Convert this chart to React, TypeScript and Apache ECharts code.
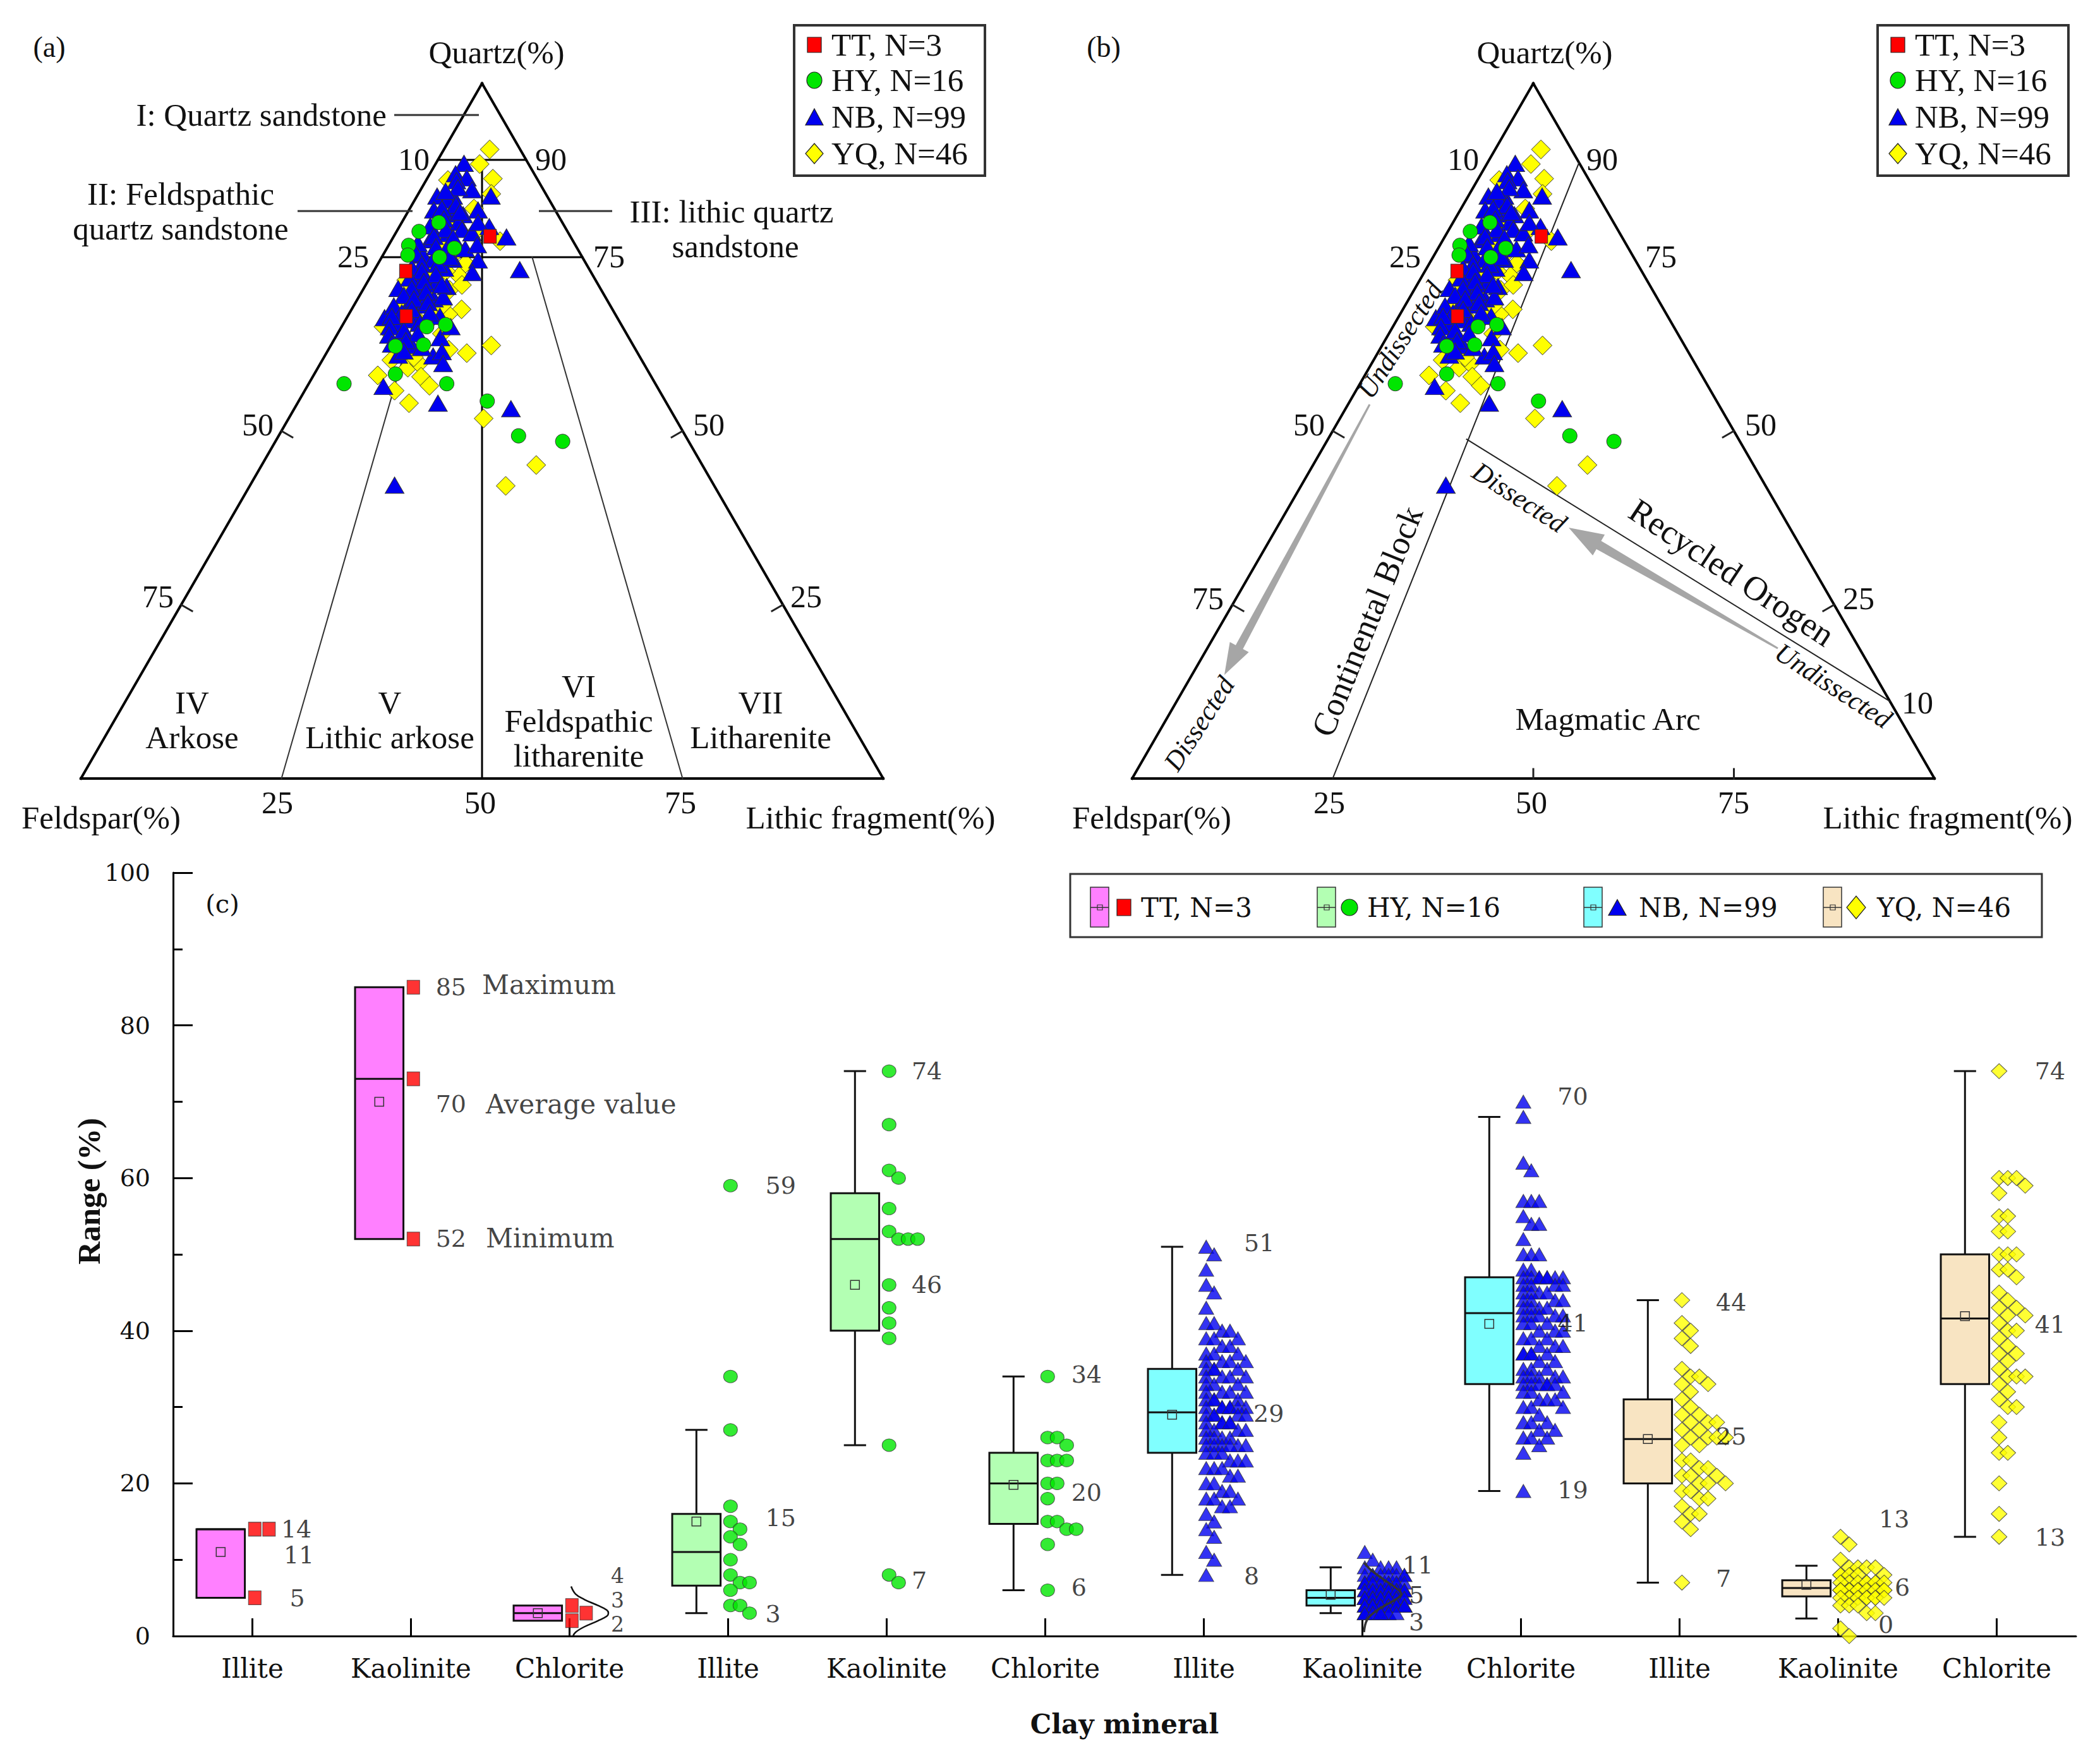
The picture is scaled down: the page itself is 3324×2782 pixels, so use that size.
import React, { useEffect, useRef } from 'react';
import * as echarts from 'echarts';

// ================= DATA =================
// Ternary samples: [Quartz %, Lithic fragment %]; Feldspar = 100 - Q - L
const TT_QL = [[78, 12], [73, 4], [66.5, 7.3]];
const HY_QL = [[80, 4.6], [78.7, 2.8], [76.7, 2.5], [75.3, 3.1], [76.3, 8.4], [75, 7.2], [65, 10.6], [65.3, 12.8], [62.2, 8.1], [62.4, 11.5], [58.2, 10.1], [56.8, 4.4], [56.8, 17.2], [54.3, 23.5], [49.3, 29.9], [48.5, 35.8]];
const NB_QL = [[88.5, 3.5], [87, 3.2], [86.4, 4.9], [84.7, 6.4], [83.8, 9.2], [83.8, 2.5], [83.8, 4.5], [83.2, 4.1], [81.8, 8.6], [81.8, 3.1], [81.2, 5.4], [81.1, 7.1], [79.4, 11.2], [80, 7.1], [78.4, 6.6], [77.9, 14.1], [77.5, 4.8], [76.2, 9.8], [74.6, 12.2], [73.2, 18.1], [75.3, 5], [74.7, 6.6], [74.7, 9], [73.4, 8.6], [72.8, 12.4], [72.3, 6.5], [70.5, 4.3], [70.8, 6.1], [71.1, 8.7], [70.8, 10.2], [69.9, 7.7], [69, 9.5], [69.3, 10.5], [68.7, 6.8], [68.1, 8.6], [66.3, 4.7], [66.5, 11.5], [65.5, 7], [66.5, 8.6], [63.5, 8.3], [62.3, 10.1], [63.4, 13.1], [60.8, 13.5], [61.4, 14.3], [59.7, 15.3], [60.9, 9.1], [56.4, 9.5], [54, 17.5], [53.2, 27], [42.2, 18], [65, 13.6],
  [86, 3.8], [85, 4.5], [84.5, 3.2], [82.5, 5.5], [82, 4], [81.5, 6.5], [80.5, 5], [79.5, 3.8], [79, 6], [79, 8], [78, 5], [77.8, 7.5], [77, 3.5], [76.5, 6], [76, 7.5], [75.5, 4], [75, 8.5], [74, 5.5], [74, 7.5], [73.5, 4.5], [73, 6], [72.5, 8], [72, 5], [71.5, 7], [71, 9.5], [70.5, 6], [70, 8], [69.5, 5.5], [69, 7], [68.5, 9], [68, 5], [67.5, 7.5], [67, 10], [67, 6.5], [66.5, 5.5], [66, 8], [65.5, 9.5], [65, 6], [64.5, 8], [64, 10], [63.8, 6.5], [63, 9], [62.5, 7.5], [62, 11.5], [61.5, 9.5], [78.5, 9.5], [80, 9.5], [76.8, 11]];
const YQ_QL = [[90.5, 5.7], [88.4, 5.5], [86.3, 8.2], [86.1, 2.7], [84.1, 9.1], [77.3, 13.6], [74.1, 10.9], [72.3, 11], [70.3, 10.8], [67.5, 13.7], [71.7, 4.7], [72.3, 7.4], [77.2, 6.3], [65, 5.2], [66.4, 10.7], [66.8, 12.4], [61.7, 15], [61.2, 17.5], [62.3, 20], [60.2, 8.6], [59.1, 11.2], [59.7, 12.3], [60.6, 11.2], [57.8, 13.5], [56.5, 15.2], [55.8, 11.2], [54, 13.9], [51.8, 24.3], [45.1, 34.2], [42.1, 31.9],
  [80, 6], [76, 9], [73, 9], [70, 7], [69, 9], [68, 6], [71, 12], [74, 8], [79, 10], [82, 8], [63, 9], [66, 9], [62, 10], [64, 13], [58, 8], [68, 11]];

const GROUP_NAMES = ['TT, N=3', 'HY, N=16', 'NB, N=99', 'YQ, N=46'];

// Ternary frame and classification boundaries, [Q, L] end points
const FRAME_QL = [[[100, 0], [0, 0]], [[0, 0], [0, 100]], [[0, 100], [100, 0]]];
const FOLK_MAIN_QL = [[[89, 0], [89, 11]], [[75, 0], [75, 25]], [[89, 5.5], [0, 50]]];
const FOLK_RATIO_QL = [[[75, 6.25], [0, 25]], [[75, 18.75], [0, 75]]];
const DICKINSON_QL = [[[88.6, 11.4], [0, 25]], [[48.8, 17.3], [11.1, 88.9]]];
const EDGE_TICK_Q = [50, 25];
const BASE_TICK_L = [50, 75];

// Panel (c): clay minerals
const CLAY_MINERALS = ['Illite', 'Kaolinite', 'Chlorite'];
const CLAY_CATEGORIES = [...CLAY_MINERALS, ...CLAY_MINERALS, ...CLAY_MINERALS, ...CLAY_MINERALS];

const TT_ILLITE = [14, 14, 5];
const TT_KAOLINITE = [85, 73, 52];
const TT_CHLORITE = [4, 3, 2];
const HY_ILLITE = [59, 34, 27, 17, 15, 14, 13, 12, 10, 8, 7, 7, 6, 4, 4, 3];
const HY_KAOLINITE = [74, 67, 61, 60, 56, 53, 52, 52, 52, 46, 43, 41, 39, 25, 8, 7];
const HY_CHLORITE = [34, 26, 26, 25, 23, 23, 23, 20, 20, 18, 15, 15, 14, 14, 12, 6];
const NB_ILLITE = [51, 50, 48, 46, 45, 43, 41, 41, 40, 40, 39, 39, 39, 37, 37, 36, 36, 36, 35, 35, 35, 34, 34, 34, 33, 33, 32, 32, 32, 31, 31, 31, 30, 30, 30, 30, 30, 29, 29, 29, 28, 28, 28, 27, 27, 27, 26, 26, 25, 25, 25, 25, 25, 24, 24, 23, 23, 22, 22, 21, 21, 20, 19, 19, 18, 18, 17, 17, 15, 14, 13, 11, 10, 8,
  38, 38, 37, 36, 35, 34, 33, 32, 31, 30, 30, 29, 29, 28, 28, 27, 26, 26, 25, 24, 23, 22, 20, 18, 16];
const NB_KAOLINITE = [11, 10, 9, 9, 9, 9, 8, 8, 8, 8, 8, 8, 8, 8, 7, 7, 7, 7, 7, 7, 7, 7, 7, 7, 7, 7,
  6, 6, 6, 6, 6, 6, 6, 6, 6, 6, 6, 6, 6, 6, 6, 6, 6, 6, 5, 5, 5, 5, 5, 5, 5, 5, 5, 5, 5, 5, 5, 5, 5, 5, 5, 5, 5, 5, 5, 5,
  4, 4, 4, 4, 4, 4, 4, 4, 4, 4, 4, 4, 4, 4, 4, 4, 4, 4, 4, 4, 4, 4, 3, 3, 3, 3, 3, 3, 3, 3, 3, 3, 3];
const NB_CHLORITE = [70, 68, 62, 61, 57, 57, 57, 55, 54, 54, 52, 50, 50, 50, 48, 48, 47, 47, 47, 47, 47, 47, 47, 46, 46, 46, 45, 45, 45, 44, 44, 43, 43, 43, 42, 42, 42, 42, 41, 41, 40, 40, 39, 39, 38, 38, 37, 37, 37, 37, 35, 35, 34, 34, 34, 34, 33, 33, 33, 33, 33, 32, 32, 31, 31, 30, 30, 28, 28, 27, 26, 26, 26, 24, 19,
  47, 46, 45, 44, 44, 43, 42, 41, 40, 39, 38, 37, 36, 36, 35, 34, 33, 32, 31, 30, 29, 28, 27, 25];
const YQ_ILLITE = [44, 41, 40, 39, 38, 35, 34, 34, 33, 33, 32, 31, 30, 29, 29, 28, 28, 28, 27, 27, 26, 26, 26, 26, 25, 25, 23, 23, 22, 22, 21, 21, 21, 20, 20, 20, 19, 19, 18, 18, 17, 16, 16, 15, 14, 7];
const YQ_KAOLINITE = [13, 12, 10, 9, 9, 9, 9, 8, 8, 8, 8, 8, 7, 7, 7, 7, 7, 7, 7, 7, 6, 6, 6, 6, 6, 6, 6, 6, 6, 6, 6, 5, 5, 5, 5, 5, 5, 5, 5, 4, 4, 4, 3, 3, 1, 0];
const YQ_CHLORITE = [74, 60, 60, 60, 59, 58, 55, 55, 53, 53, 50, 50, 50, 48, 48, 47, 45, 44, 43, 43, 42, 42, 41, 40, 40, 39, 38, 37, 37, 36, 35, 34, 34, 34, 33, 32, 31, 30, 30, 28, 26, 24, 24, 20, 16, 13];

const CLAY_VALUES = [
  [TT_ILLITE, TT_KAOLINITE, TT_CHLORITE],
  [HY_ILLITE, HY_KAOLINITE, HY_CHLORITE],
  [NB_ILLITE, NB_KAOLINITE, NB_CHLORITE],
  [YQ_ILLITE, YQ_KAOLINITE, YQ_CHLORITE],
];

// Box statistics per mineral: [lower whisker, Q1, median, Q3, upper whisker, mean]
const TT_BOX = [[5, 5, 14, 14, 14, 11], [52, 52, 73, 85, 85, 70], [2, 2, 3, 4, 4, 3]];
const HY_BOX = [[3, 6.6, 11, 16, 27, 15], [25, 40, 52, 58, 74, 46], [6, 14.7, 20, 24, 34, 19.8]];
const NB_BOX = [[8, 24, 29.3, 35, 51, 29], [3, 4, 5, 6, 9, 5.4], [19, 33, 42.3, 47, 68, 40.9]];
const YQ_BOX = [[7, 20, 25.8, 31, 44, 25.8], [2.3, 5.2, 6.3, 7.3, 9.2, 6.7], [13, 33, 41.6, 50, 74, 41.9]];
const BOX_STATS = [TT_BOX, HY_BOX, NB_BOX, YQ_BOX];

// Normal-distribution curves (value, relative density)
const TT_CHLORITE_CURVE = [[6.5, 0], [5.5, 0.12], [4.8, 0.35], [4.0, 0.72], [3.4, 0.96], [3.0, 1], [2.6, 0.96], [2.0, 0.72], [1.2, 0.35], [0.5, 0.12], [0, 0.05]];
const NB_KAOLINITE_CURVE = [[9.6, 0], [8.6, 0.2], [7.5, 0.5], [6.5, 0.8], [5.5, 1], [4.8, 0.85], [4.1, 0.6], [3.2, 0.3], [2.1, 0.08], [0.5, 0]];

// Annotations of panel (c): [x (category units), y (%), text]
const C_LABELS: [number, number, string][] = [
  [1.181, 14, '14'], [1.197, 10.6, '11'], [1.235, 5, '5'],
  [2.156, 85, '85'], [2.448, 85.3, 'Maximum'], [2.156, 69.7, '70'], [2.472, 69.7, 'Average value'], [2.156, 52.1, '52'], [2.472, 52.1, 'Minimum'],
  [3.261, 7.9, '4'], [3.261, 4.7, '3'], [3.261, 1.5, '2'],
  [4.235, 59, '59'], [4.235, 15.5, '15'], [4.235, 2.9, '3'],
  [5.157, 74, '74'], [5.157, 46, '46'], [5.157, 7.3, '7'],
  [6.164, 34.3, '34'], [6.164, 18.8, '20'], [6.164, 6.4, '6'],
  [7.253, 51.5, '51'], [7.313, 29.1, '29'], [7.253, 7.9, '8'],
  [8.253, 9.3, '11'], [8.293, 5.4, '5'], [8.293, 1.8, '3'],
  [9.23, 70.7, '70'], [9.23, 41, '41'], [9.23, 19.1, '19'],
  [10.229, 43.7, '44'], [10.229, 26.2, '25'], [10.229, 7.5, '7'],
  [11.257, 15.3, '13'], [11.357, 6.4, '6'], [11.253, 1.5, '0'],
  [12.24, 74, '74'], [12.24, 40.8, '41'], [12.24, 12.9, '13'],
];
const SMALL_LABEL_X = [3.261];

// ================= STYLE / LAYOUT =================
const SERIF = '"Liberation Serif", "Times New Roman", serif';
const WIDE = '"DejaVu Serif", serif';
const TSIZE = 51;
const BOX_FILL = ['#FF80FF', '#B3FFB3', '#80FFFF', '#F8E4C2'];
const MARK_FILL = ['#FF0000', '#00E600', '#0000F0', '#FFFF00'];
const MARK_SYMBOL = ['rect', 'circle', 'triangle', 'diamond'];
const TERN_SIZE: any[] = [[20, 22], [23, 23], [30, 26], [30, 30]];
const CLAY_SIZE: any[] = [[20, 22], [22, 20], [24, 21], [25, 24]];
const GRID_A = { left: 128, top: 132, width: 1270, height: 1100 };
const GRID_B = { left: 1792, top: 132, width: 1270, height: 1100 };
const GRID_C = { left: 274, top: 1381, width: 3012, height: 1208 };
const BOX_OFFSET = -0.2, BOX_W = 0.305, CAP_W = 0.14;
const SWARM_BASE = 0.015, CURVE_W = 0.235;
const SWARM = [
  { step: 0.09, slots: 3, thresh: 1.5 },
  { step: 0.06, slots: 4, thresh: 1.5 },
  { step: 0.05, slots: 6, thresh: 1.5 },
  { step: 0.055, slots: 6, thresh: 1.5 },
];

const toXY = ([q, l]: number[]) => [l + q / 2, q];

function segSeries(g: number, segs: number[][][], color: string, width: number) {
  return {
    type: 'custom', xAxisIndex: g, yAxisIndex: g, silent: true, z: 2, clip: false,
    encode: { x: [0, 2], y: [1, 3] },
    data: segs.map(([a, b]) => [a[0], a[1], b[0], b[1]]),
    renderItem: (_p: any, api: any) => {
      const p1 = api.coord([api.value(0), api.value(1)]);
      const p2 = api.coord([api.value(2), api.value(3)]);
      return { type: 'line', shape: { x1: p1[0], y1: p1[1], x2: p2[0], y2: p2[1] }, style: { stroke: color, lineWidth: width, lineCap: 'square' } };
    },
  };
}

function ternTicks(grid: any, withBase: boolean) {
  const L = 20;
  const dx = (L * 0.866) / (grid.width / 100);
  const dq = (L * 0.5) / (grid.height / 100);
  const segs: number[][][] = [];
  EDGE_TICK_Q.forEach((q) => {
    segs.push([[q / 2, q], [q / 2 + dx, q - dq]]);
    segs.push([[100 - q / 2, q], [100 - q / 2 - dx, q - dq]]);
  });
  if (withBase) BASE_TICK_L.forEach((l) => segs.push([[l, 0], [l, 15 / (grid.height / 100)]]));
  return segs;
}

function swarm(values: number[], cat: number, cfg: any) {
  const placed: { v: number; s: number }[] = [];
  const sorted = values.slice().sort((a, b) => b - a);
  return sorted.map((v) => {
    const conf = new Array(cfg.slots).fill(0);
    placed.forEach((p) => { if (Math.abs(p.v - v) < cfg.thresh) conf[p.s]++; });
    let s = conf.indexOf(0);
    if (s < 0) s = conf.indexOf(Math.min(...conf));
    placed.push({ v, s });
    return [cat + SWARM_BASE + s * cfg.step, v];
  });
}

function arrowPoly(sx: number, sy: number, tx: number, ty: number, w0: number, w1: number, hl: number, hw: number) {
  const dx = tx - sx, dy = ty - sy, len = Math.hypot(dx, dy);
  const ux = dx / len, uy = dy / len, nx = -uy, ny = ux;
  const bx = tx - ux * hl, by = ty - uy * hl;
  return [[sx + nx * w0 / 2, sy + ny * w0 / 2], [bx + nx * w1 / 2, by + ny * w1 / 2], [bx + nx * hw / 2, by + ny * hw / 2], [tx, ty],
    [bx - nx * hw / 2, by - ny * hw / 2], [bx - nx * w1 / 2, by - ny * w1 / 2], [sx - nx * w0 / 2, sy - ny * w0 / 2]];
}

function txt(text: string, x: number, y: number, o: any = {}) {
  const align = o.align || 'center';
  return {
    type: 'text', x, y, rotation: o.rot || 0, silent: true, z: 60,
    style: {
      text, fill: o.color || '#111', fontSize: o.size || TSIZE, fontFamily: o.family || SERIF,
      fontStyle: o.italic ? 'italic' : 'normal', fontWeight: o.bold ? 'bold' : 'normal',
      align, verticalAlign: 'middle', textAlign: align, textVerticalAlign: 'middle',
    },
  };
}

function marker(kind: number, cx: number, cy: number, w: number, h: number) {
  const style = { fill: MARK_FILL[kind], stroke: '#222', lineWidth: 1.2 };
  if (kind === 0) return { type: 'rect', shape: { x: cx - w / 2, y: cy - h / 2, width: w, height: h }, style, z: 61 };
  if (kind === 1) return { type: 'ellipse', shape: { cx, cy, rx: w / 2, ry: h / 2 }, style, z: 61 };
  if (kind === 2) return { type: 'polygon', shape: { points: [[cx, cy - h / 2], [cx + w / 2, cy + h / 2], [cx - w / 2, cy + h / 2]] }, style, z: 61 };
  return { type: 'polygon', shape: { points: [[cx, cy - h / 2], [cx + w / 2, cy], [cx, cy + h / 2], [cx - w / 2, cy]] }, style, z: 61 };
}

function ternLegend(left: number) {
  const els: any[] = [{ type: 'rect', shape: { x: left, y: 40, width: 302, height: 238 }, style: { fill: '#fff', stroke: '#333', lineWidth: 4 }, z: 59 }];
  const rows = [71, 127, 185, 243];
  const sizes = [[22, 24], [24, 26], [28, 26], [28, 32]];
  GROUP_NAMES.forEach((n, i) => {
    els.push(marker(i, left + 32, rows[i], sizes[i][0], sizes[i][1]));
    els.push(txt(n, left + 59, rows[i], { align: 'left', size: 51 }));
  });
  return els;
}

function buildOption() {
  const ternLines: any[] = [];
  const ternPoints: any[] = [];
  const QL = [TT_QL, HY_QL, NB_QL, YQ_QL];
  [GRID_A, GRID_B].forEach((grid, g) => {
    ternLines.push(segSeries(g, FRAME_QL.map((s) => s.map(toXY)), '#000', 4));
    if (g === 0) {
      ternLines.push(segSeries(g, FOLK_MAIN_QL.map((s) => s.map(toXY)), '#000', 3));
      ternLines.push(segSeries(g, FOLK_RATIO_QL.map((s) => s.map(toXY)), '#333', 2));
    } else {
      ternLines.push(segSeries(g, DICKINSON_QL.map((s) => s.map(toXY)), '#222', 2));
    }
    ternLines.push(segSeries(g, ternTicks(grid, g === 1), '#222', 3));
    [3, 2, 1, 0].forEach((k, order) => {
      ternPoints.push({
        type: 'scatter', name: GROUP_NAMES[k], xAxisIndex: g, yAxisIndex: g, z: 10 + order,
        data: QL[k].map(toXY), symbol: MARK_SYMBOL[k], symbolSize: TERN_SIZE[k],
        itemStyle: { color: MARK_FILL[k], borderColor: '#333', borderWidth: 1, opacity: 1 },
        silent: true,
      });
    });
  });

  const boxSeries = BOX_STATS.map((stats, g) => ({
    type: 'custom', name: GROUP_NAMES[g] + ' box', xAxisIndex: 3, yAxisIndex: 2, z: 3, silent: true,
    encode: { x: 0, y: [1, 2, 3, 4, 5] },
    data: stats.map((s, m) => [g * 3 + m + 1, ...s]),
    renderItem: (_p: any, api: any) => {
      const x = api.value(0) + BOX_OFFSET;
      const v = [1, 2, 3, 4, 5, 6].map((i) => api.value(i));
      const c = (val: number) => api.coord([x, val]);
      const bw = api.size([BOX_W, 0])[0];
      const cw = api.size([CAP_W, 0])[0];
      const cx = c(v[2])[0];
      const [yLow, yQ1, yMed, yQ3, yHigh, yMean] = v.map((val) => c(val)[1]);
      const ln = { stroke: '#111', lineWidth: 3 };
      const ch: any[] = [];
      if (v[0] < v[1]) {
        ch.push({ type: 'line', shape: { x1: cx, y1: yLow, x2: cx, y2: yQ1 }, style: ln });
        ch.push({ type: 'line', shape: { x1: cx - cw / 2, y1: yLow, x2: cx + cw / 2, y2: yLow }, style: ln });
      }
      if (v[4] > v[3]) {
        ch.push({ type: 'line', shape: { x1: cx, y1: yQ3, x2: cx, y2: yHigh }, style: ln });
        ch.push({ type: 'line', shape: { x1: cx - cw / 2, y1: yHigh, x2: cx + cw / 2, y2: yHigh }, style: ln });
      }
      ch.push({ type: 'rect', shape: { x: cx - bw / 2, y: yQ3, width: bw, height: yQ1 - yQ3 }, style: { fill: BOX_FILL[g], stroke: '#111', lineWidth: 3 } });
      ch.push({ type: 'line', shape: { x1: cx - bw / 2, y1: yMed, x2: cx + bw / 2, y2: yMed }, style: ln });
      ch.push({ type: 'rect', shape: { x: cx - 7, y: yMean - 7, width: 14, height: 14 }, style: { fill: 'none', stroke: '#333', lineWidth: 1.5 } });
      return { type: 'group', children: ch };
    },
  }));

  const clayScatter = CLAY_VALUES.map((mins, g) => ({
    type: 'scatter', name: GROUP_NAMES[g] + ' clay', xAxisIndex: 3, yAxisIndex: 2, z: 5, silent: true,
    data: mins.flatMap((vals, m) => swarm(vals, g * 3 + m + 1, SWARM[g])),
    symbol: MARK_SYMBOL[g], symbolSize: CLAY_SIZE[g],
    itemStyle: { color: MARK_FILL[g], borderColor: '#333', borderWidth: 1 },
  }));

  const curve = (data: number[][], cat: number, color: string, w: number) => ({
    type: 'line', xAxisIndex: 3, yAxisIndex: 2, z: 7, silent: true, smooth: 0.4, symbol: 'none',
    data: data.map(([v, d]) => [cat + 0.01 + d * CURVE_W, v]),
    lineStyle: { color, width: w },
  });

  const annotations = {
    type: 'scatter', xAxisIndex: 3, yAxisIndex: 2, z: 9, silent: true, symbolSize: 0,
    data: C_LABELS.map(([x, y, t]) => ({
      value: [x, y], name: t,
      label: { fontSize: SMALL_LABEL_X.includes(x) ? 33 : /^\d+$/.test(t) ? 38 : 42 },
    })),
    label: { show: true, position: 'right', distance: 0, formatter: '{b}', color: '#111', fontFamily: WIDE, fontSize: 38 },
  };

  // --------- graphic (text annotations, legends, arrows) ---------
  const g: any[] = [];
  // panel (a)
  g.push(txt('(a)', 78, 74, { size: 46 }));
  g.push(txt('Quartz(%)', 786, 83));
  g.push(txt('I: Quartz sandstone', 612, 182, { align: 'right' }));
  g.push(txt('II: Feldspathic', 286, 307));
  g.push(txt('quartz sandstone', 286, 362));
  g.push(txt('III: lithic quartz', 1158, 335));
  g.push(txt('sandstone', 1164, 390));
  [['10', 655, 252], ['90', 872, 252], ['25', 559, 406], ['75', 964, 406], ['50', 408, 672], ['75', 250, 944], ['50', 1122, 672], ['25', 1276, 944],
    ['25', 439, 1270], ['50', 760, 1270], ['75', 1077, 1270]].forEach(([t, x, y]: any) => g.push(txt(t, x, y, { size: 50 })));
  g.push(txt('Feldspar(%)', 160, 1294));
  g.push(txt('Lithic fragment(%)', 1378, 1294));
  [['IV', 304, 1112], ['Arkose', 304, 1167], ['V', 617, 1112], ['Lithic arkose', 617, 1167], ['VI', 916, 1086], ['Feldspathic', 916, 1141],
    ['litharenite', 916, 1196], ['VII', 1204, 1112], ['Litharenite', 1204, 1167]].forEach(([t, x, y]: any) => g.push(txt(t, x, y)));
  [[624, 182, 758, 182], [471, 334, 653, 334], [853, 334, 969, 334]].forEach(([x1, y1, x2, y2]) =>
    g.push({ type: 'line', shape: { x1, y1, x2, y2 }, style: { stroke: '#333', lineWidth: 3 }, silent: true, z: 5 }));
  g.push(...ternLegend(1257));

  // panel (b)
  g.push(txt('(b)', 1747, 74, { size: 46 }));
  g.push(txt('Quartz(%)', 2445, 83));
  [['10', 2316, 252], ['90', 2536, 252], ['25', 2224, 406], ['75', 2629, 406], ['50', 2072, 672], ['50', 2787, 672], ['75', 1912, 947], ['25', 2942, 947],
    ['10', 3035, 1112], ['25', 2104, 1270], ['50', 2424, 1270], ['75', 2744, 1270]].forEach(([t, x, y]: any) => g.push(txt(t, x, y, { size: 50 })));
  g.push(txt('Feldspar(%)', 1823, 1294));
  g.push(txt('Lithic fragment(%)', 3083, 1294));
  g.push(txt('Magmatic Arc', 2545, 1138));
  const deg = Math.PI / 180;
  g.push(txt('Continental Block', 2164, 983, { size: 53, rot: 68 * deg }));
  g.push(txt('Recycled Orogen', 2741, 906, { size: 54, rot: -33.5 * deg }));
  g.push(txt('Dissected', 2405, 787, { size: 43, italic: true, rot: -33 * deg }));
  g.push(txt('Undissected', 2902, 1085, { size: 43, italic: true, rot: -33 * deg }));
  g.push(txt('Undissected', 2216, 538, { size: 43, italic: true, rot: 57 * deg }));
  g.push(txt('Dissected', 1898, 1145, { size: 43, italic: true, rot: 57 * deg }));
  g.push({ type: 'polygon', shape: { points: arrowPoly(2168, 640, 1938, 1068, 3, 13, 50, 34) }, style: { fill: '#A6A6A6' }, silent: true, z: 4 });
  g.push({ type: 'polygon', shape: { points: arrowPoly(2814, 1026, 2483, 835, 3, 15, 55, 38) }, style: { fill: '#A6A6A6' }, silent: true, z: 4 });
  g.push(...ternLegend(2972));

  // panel (c)
  g.push(txt('(c)', 352, 1430, { size: 40, family: WIDE }));
  g.push(txt('Range (%)', 141, 1885, { size: 50, bold: true, rot: Math.PI / 2 }));
  g.push({ type: 'rect', shape: { x: 1694, y: 1383, width: 1538, height: 100 }, style: { fill: '#fff', stroke: '#333', lineWidth: 3 }, silent: true, z: 58 });
  const legC = [[1726, 1779, 1806], [2085, 2136, 2164], [2507, 2560, 2594], [2886, 2938, 2971]];
  const legSize = [[22, 26], [26, 26], [28, 25], [30, 36]];
  legC.forEach(([ix, mx, tx], i) => {
    g.push({ type: 'rect', shape: { x: ix, y: 1404, width: 29, height: 63 }, style: { fill: BOX_FILL[i], stroke: '#333', lineWidth: 1.5 }, silent: true, z: 60 });
    g.push({ type: 'line', shape: { x1: ix, y1: 1436, x2: ix + 29, y2: 1436 }, style: { stroke: '#333', lineWidth: 1.5 }, silent: true, z: 61 });
    g.push({ type: 'rect', shape: { x: ix + 11, y: 1432, width: 8, height: 8 }, style: { fill: 'none', stroke: '#333', lineWidth: 1.2 }, silent: true, z: 62 });
    g.push(marker(i, mx, 1436, legSize[i][0], legSize[i][1]));
    g.push(txt(GROUP_NAMES[i], tx, 1436, { align: 'left', size: 42, family: WIDE }));
  });

  return {
    animation: false,
    backgroundColor: '#fff',
    grid: [
      { ...GRID_A, containLabel: false },
      { ...GRID_B, containLabel: false },
      { ...GRID_C, containLabel: false },
    ],
    xAxis: [
      { gridIndex: 0, type: 'value', min: 0, max: 100, show: false },
      { gridIndex: 1, type: 'value', min: 0, max: 100, show: false },
      {
        gridIndex: 2, type: 'category', data: CLAY_CATEGORIES, boundaryGap: true,
        axisLine: { show: true, lineStyle: { color: '#000', width: 3 } },
        axisTick: { show: true, alignWithLabel: true, inside: true, length: 28, lineStyle: { color: '#000', width: 3 } },
        axisLabel: { interval: 0, fontFamily: WIDE, fontSize: 42, color: '#111', margin: 30 },
        splitLine: { show: false },
        name: 'Clay mineral', nameLocation: 'middle', nameGap: 118,
        nameTextStyle: { fontFamily: WIDE, fontWeight: 'bold', fontSize: 42, color: '#111' },
      },
      { gridIndex: 2, type: 'value', min: 0.5, max: 12.5, show: false },
    ],
    yAxis: [
      { gridIndex: 0, type: 'value', min: 0, max: 100, show: false },
      { gridIndex: 1, type: 'value', min: 0, max: 100, show: false },
      {
        gridIndex: 2, type: 'value', min: 0, max: 100, interval: 20,
        axisLine: { show: true, lineStyle: { color: '#000', width: 3 } },
        axisTick: { show: true, inside: true, length: 31, lineStyle: { color: '#000', width: 3 } },
        minorTick: { show: true, splitNumber: 2, length: 15, lineStyle: { color: '#000', width: 3 } },
        splitLine: { show: false }, minorSplitLine: { show: false },
        axisLabel: { fontFamily: WIDE, fontSize: 38, color: '#111', margin: 36 },
      },
    ],
    series: [
      ...ternLines, ...ternPoints,
      ...boxSeries, ...clayScatter,
      curve(TT_CHLORITE_CURVE, 3, '#111', 2.5),
      curve(NB_KAOLINITE_CURVE, 8, '#333', 3.5),
      annotations,
    ],
    graphic: { elements: g },
  };
}

export default function App() {
  const ref = useRef<HTMLDivElement>(null);
  useEffect(() => {
    const chart = echarts.init(ref.current as HTMLDivElement, undefined, { renderer: 'svg' });
    chart.setOption(buildOption() as any);
    return () => chart.dispose();
  }, []);
  return <div ref={ref} style={{ position: 'absolute', left: 0, top: 0, width: 3324, height: 2782, background: '#fff' }} />;
}
